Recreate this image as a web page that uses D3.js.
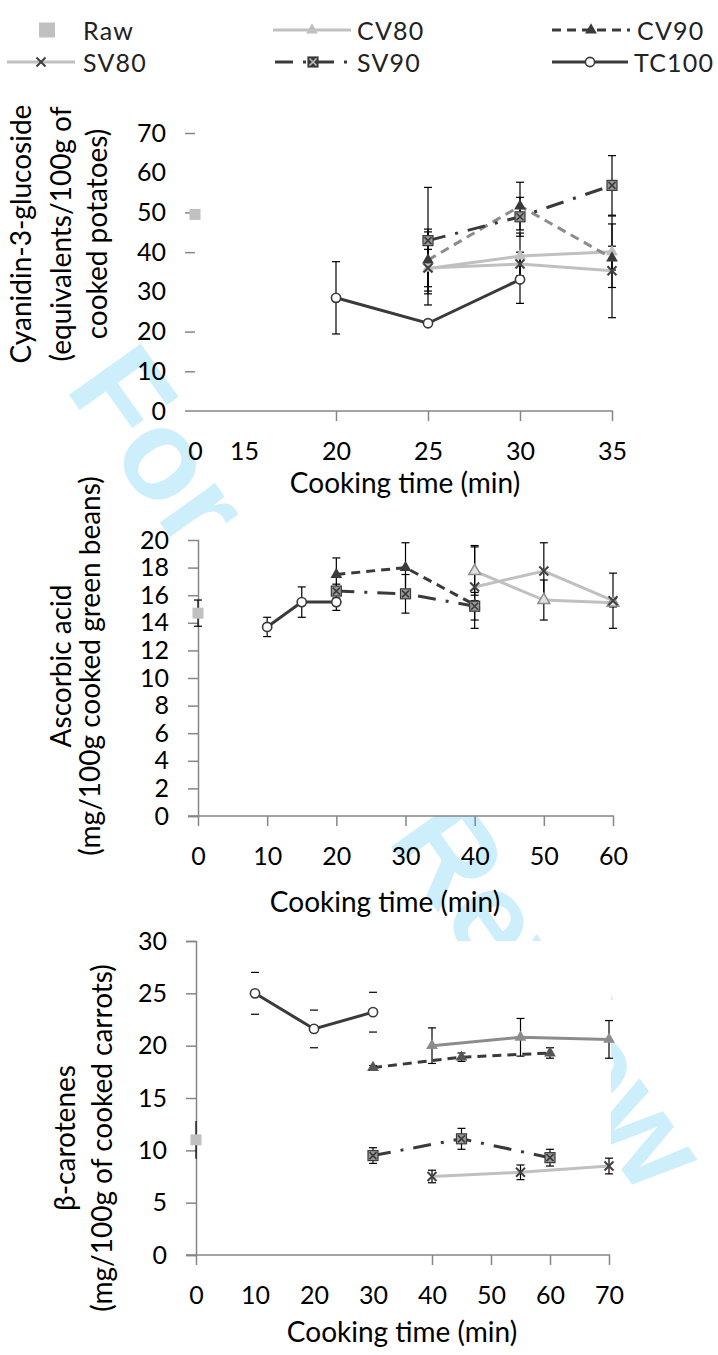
<!DOCTYPE html>
<html>
<head>
<meta charset="utf-8">
<script src="https://cdn.jsdelivr.net/npm/d3@7"></script>
<style>
  body { margin: 0; background: #fff; }
  svg { display: block; font-family: Lato, "Open Sans", sans-serif; }
</style>
</head>
<body>
<svg id="chart" width="718" height="1355"></svg>
<script>
// ---- data: [cooking time (min), mean, sd] ----
// potatoes (cyanidin-3-glucoside)
const potRaw   = [[0, 49.5, 0]];
const potCV80  = [[25, 35.9, 9.2], [30, 39.0, 5.8], [35, 40.1, 9.0]];
const potCV90  = [[25, 38.0, 7.8], [30, 51.6, 6.0], [35, 38.5, 3.0]];
const potSV80  = [[25, 36.0, 4.7], [30, 37.0, 3.0], [35, 35.3, 11.8]];
const potSV90  = [[25, 42.9, 13.4], [30, 48.9, 4.9], [35, 56.8, 7.5]];
const potTC100 = [[20, 28.5, 9.1], [25, 22.1, 0.8], [30, 33.1, 6.0]];

// green beans (ascorbic acid)
const beanRaw   = [[0, 14.7, 0.95]];
const beanCV80  = [[40, 17.75, 1.75], [50, 15.65, 1.45], [60, 15.45, 0.3]];
const beanCV90  = [[20, 17.5, 1.2], [30, 18.0, 1.8], [40, 15.3, 0.3]];
const beanSV80  = [[40, 16.6, 3.0], [50, 17.75, 2.05], [60, 15.6, 2.0]];
const beanSV90  = [[20, 16.3, 0.5], [30, 16.1, 1.4], [40, 15.2, 1.0]];
const beanTC100 = [[10, 13.7, 0.7], [15, 15.5, 1.1], [20, 15.5, 0.6]];

// carrots (beta-carotenes)
const carRaw   = [[0, 11.0, 1.8]];
const carCV80  = [[40, 20.0, 1.7], [55, 20.8, 1.8], [70, 20.6, 1.8]];
const carCV90  = [[30, 17.9, 0.2], [45, 18.9, 0.4], [60, 19.3, 0.5]];
const carSV80  = [[40, 7.5, 0.6], [55, 7.9, 0.7], [70, 8.5, 0.75]];
const carSV90  = [[30, 9.5, 0.75], [45, 11.1, 1.0], [60, 9.3, 0.8]];
const carTC100 = [[10, 25.0, 2.0], [20, 21.6, 1.8], [30, 23.2, 1.9]];

// ticks
const potXLabels = [0, 15, 20, 25, 30, 35];
const potXMarks  = [20, 25, 30, 35];
const potYLabels = [0, 10, 20, 30, 40, 50, 60, 70];
const potYMarks  = [10, 20, 40, 50, 70];
const beanXLabels = [0, 10, 20, 30, 40, 50, 60];
const beanYLabels = [0, 2, 4, 6, 8, 10, 12, 14, 16, 18, 20];
const carXLabels = [0, 10, 20, 30, 40, 50, 60, 70];
const carXMarks  = [0, 40, 50, 60, 70];
const carYLabels = [0, 5, 10, 15, 20, 25, 30];

const seriesNames = ["Raw", "CV80", "CV90", "SV80", "SV90", "TC100"];
const xTitle = "Cooking time (min)";
const potYTitle  = ["Cyanidin-3-glucoside", "(equivalents/100g of", "cooked potatoes)"];
const beanYTitle = ["Ascorbic acid", "(mg/100g cooked green beans)"];
const carYTitle  = ["β-carotenes", "(mg/100g of cooked carrots)"];

const DARK = "#3a3a3a", LIGHT = "#c0c0c0", MID = "#8c8c8c", AXIS = "#868686";

const styles = {
    Raw:   { line: null, marker: "square", fill: LIGHT },
    CV80:  { line: LIGHT, marker: "tri", fill: LIGHT, stroke: "none" },
    CV90:  { line: DARK, dash: "9,6", marker: "tri", fill: DARK, stroke: "none" },
    SV80:  { line: LIGHT, marker: "cross", stroke: "#404040" },
    SV90:  { line: DARK, dash: "18,10,3,10", marker: "boxcross", fill: "#9a9a9a", stroke: DARK },
    TC100: { line: DARK, marker: "circle", fill: "#fff", stroke: DARK }
};

const svg = d3.select("#chart");

// watermark sits under the plot areas
svg.append("text")
    .text("For Peer Review")
    .attr("transform", "translate(64,388) rotate(54.5)")
    .attr("font-family", "'Liberation Sans', Arial, sans-serif")
    .attr("font-weight", "bold")
    .attr("font-size", 128)
    .attr("fill", "#cdeefb");

const panels = [
    {
        data: { Raw: potRaw, CV80: potCV80, CV90: potCV90, SV80: potSV80, SV90: potSV90, TC100: potTC100 },
        x: d3.scaleLinear().domain([0, 15, 35]).range([195, 244, 612]),
        y: d3.scaleLinear().domain([0, 70]).range([411, 133]),
        xLabels: potXLabels, xMarks: potXMarks, yLabels: potYLabels, yMarks: potYMarks,
        yLine: false, yTitle: potYTitle, yTitleX: [31, 71, 107], yTitleY: 234,
        xTitleX: 405, xTitleY: 493,
        over: { CV90: { line: MID } }
    },
    {
        data: { Raw: beanRaw, CV80: beanCV80, CV90: beanCV90, SV80: beanSV80, SV90: beanSV90, TC100: beanTC100 },
        x: d3.scaleLinear().domain([0, 60]).range([198, 613]),
        y: d3.scaleLinear().domain([0, 20]).range([816, 540]),
        xLabels: beanXLabels, xMarks: beanXLabels, yLabels: beanYLabels, yMarks: beanYLabels.slice(0, -1),
        yLine: true, yTitle: beanYTitle, yTitleX: [71, 100], yTitleY: 666,
        xTitleX: 385, xTitleY: 912,
        over: { CV80: { fill: "#e0e0e0", stroke: MID } }
    },
    {
        data: { Raw: carRaw, CV80: carCV80, CV90: carCV90, SV80: carSV80, SV90: carSV90, TC100: carTC100 },
        x: d3.scaleLinear().domain([0, 70]).range([196, 609]),
        y: d3.scaleLinear().domain([0, 30]).range([1255, 941]),
        xLabels: carXLabels, xMarks: carXMarks, yLabels: carYLabels, yMarks: carYLabels,
        yLine: true, yTitle: carYTitle, yTitleX: [75, 112], yTitleY: 1138,
        xTitleX: 402, xTitleY: 1342,
        over: { CV80: { line: MID, fill: MID }, CV90: { fill: "#555" } },
        capsOnly: ["TC100"], noCaps: ["Raw"]
    }
];

function drawMarker(g, type, st) {
    if (type === "square") {
        g.append("rect").attr("x", -5.5).attr("y", -5.5).attr("width", 11).attr("height", 11)
            .attr("fill", st.fill);
    } else if (type === "tri") {
        g.append("path").attr("d", d3.symbol(d3.symbolTriangle, 60)())
            .attr("fill", st.fill).attr("stroke", st.stroke || "none").attr("stroke-width", 1.5);
    } else if (type === "cross") {
        g.append("path").attr("d", "M-4.5,-4.5L4.5,4.5M-4.5,4.5L4.5,-4.5")
            .attr("stroke", st.stroke).attr("stroke-width", 2);
    } else if (type === "boxcross") {
        g.append("rect").attr("x", -5).attr("y", -5).attr("width", 10).attr("height", 10)
            .attr("fill", st.fill).attr("stroke", st.stroke).attr("stroke-width", 1.2);
        g.append("path").attr("d", "M-3.5,-3.5L3.5,3.5M-3.5,3.5L3.5,-3.5")
            .attr("stroke", st.stroke).attr("stroke-width", 1.6);
    } else if (type === "circle") {
        g.append("circle").attr("r", 4.6)
            .attr("fill", st.fill).attr("stroke", st.stroke).attr("stroke-width", 1.6);
    }
}

panels.forEach(p => {
    const g = svg.append("g");
    const [x0, x1] = p.x.range().length > 2 ? [p.x.range()[0], p.x.range()[2]] : p.x.range();
    const [y0, y1] = p.y.range();

    // white plot area hides the watermark
    g.append("rect").attr("x", x0 - 10).attr("y", y1).attr("width", x1 - x0 + 12).attr("height", y0 - y1)
        .attr("fill", "#fff");

    // y axis: marks + labels
    const ym = g.append("g").attr("transform", `translate(${x0},0)`)
        .call(d3.axisLeft(p.y).tickValues(p.yMarks).tickSize(10).tickFormat(""));
    ym.select(".domain").attr("stroke", p.yLine ? AXIS : "none").attr("stroke-width", 1.5);
    ym.selectAll(".tick line").attr("stroke", AXIS).attr("stroke-width", 1.5);

    g.append("g").attr("transform", `translate(${x0},0)`)
        .call(d3.axisLeft(p.y).tickValues(p.yLabels).tickSize(0).tickPadding(29).tickFormat(d3.format("d")))
        .call(a => a.select(".domain").remove())
        .selectAll("text").attr("font-family", "Lato, sans-serif").attr("font-size", 25).attr("fill", "#000");

    // x axis
    g.append("line").attr("x1", x0 - 10).attr("x2", x1 + 1).attr("y1", y0).attr("y2", y0)
        .attr("stroke", AXIS).attr("stroke-width", 1.5);
    const xm = g.append("g").attr("transform", `translate(0,${y0})`)
        .call(d3.axisBottom(p.x).tickValues(p.xMarks).tickSize(10).tickFormat(""));
    xm.select(".domain").remove();
    xm.selectAll(".tick line").attr("stroke", AXIS).attr("stroke-width", 1.5);

    g.append("g").attr("transform", `translate(0,${y0})`)
        .call(d3.axisBottom(p.x).tickValues(p.xLabels).tickSize(0).tickPadding(31).tickFormat(d3.format("d")))
        .call(a => a.select(".domain").remove())
        .selectAll("text").attr("font-family", "Lato, sans-serif").attr("font-size", 25).attr("fill", "#000");

    // titles
    g.append("text").text(xTitle)
        .attr("x", p.xTitleX).attr("y", p.xTitleY).attr("text-anchor", "middle")
        .attr("font-size", 28).attr("fill", "#000");
    p.yTitle.forEach((t, i) => {
        g.append("text").text(t)
            .attr("transform", `translate(${p.yTitleX[i]},${p.yTitleY}) rotate(-90)`)
            .attr("text-anchor", "middle").attr("font-size", 28).attr("fill", "#000");
    });

    const styleOf = name => Object.assign({}, styles[name], (p.over || {})[name] || {});

    // error bars
    seriesNames.forEach(name => {
        const rows = p.data[name];
        const capsOnly = (p.capsOnly || []).includes(name);
        const noCaps = (p.noCaps || []).includes(name);
        rows.filter(d => d[2] > 0).forEach(d => {
            const cx = p.x(d[0]), top = p.y(d[1] + d[2]), bot = p.y(d[1] - d[2]);
            if (!capsOnly) {
                g.append("line").attr("x1", cx).attr("x2", cx).attr("y1", top).attr("y2", bot)
                    .attr("stroke", "#000").attr("stroke-width", 1.2);
            }
            if (!noCaps) {
                [top, bot].forEach(yy => {
                    g.append("line").attr("x1", cx - 4).attr("x2", cx + 4).attr("y1", yy).attr("y2", yy)
                        .attr("stroke", "#000").attr("stroke-width", 1.2);
                });
            }
        });
    });

    // lines
    const line = d3.line().x(d => p.x(d[0])).y(d => p.y(d[1]));
    seriesNames.forEach(name => {
        const st = styleOf(name);
        if (!st.line) return;
        g.append("path").datum(p.data[name]).attr("d", line)
            .attr("fill", "none").attr("stroke", st.line).attr("stroke-width", 3)
            .attr("stroke-dasharray", st.dash || null);
    });

    // markers
    seriesNames.forEach(name => {
        const st = styleOf(name);
        p.data[name].forEach(d => {
            const m = g.append("g").attr("transform", `translate(${p.x(d[0])},${p.y(d[1])})`);
            drawMarker(m, st.marker, st);
        });
    });
});

// legend
const legendPos = {
    Raw:   { x: 30, y: 30, len: 18, tx: 83 },
    CV80:  { x: 273, y: 30, len: 78, tx: 357 },
    CV90:  { x: 552, y: 30, len: 78, tx: 637 },
    SV80:  { x: 7, y: 62, len: 68, tx: 83 },
    SV90:  { x: 275, y: 62, len: 76, tx: 357 },
    TC100: { x: 552, y: 62, len: 76, tx: 634 }
};
const lg = svg.append("g");
seriesNames.forEach(name => {
    const st = styles[name], lp = legendPos[name];
    if (st.line) {
        lg.append("line").attr("x1", lp.x).attr("x2", lp.x + lp.len).attr("y1", lp.y).attr("y2", lp.y)
            .attr("stroke", st.line).attr("stroke-width", 3).attr("stroke-dasharray", st.dash || null);
    }
    const m = lg.append("g").attr("transform", `translate(${lp.x + lp.len / 2},${lp.y})`);
    if (name === "Raw") {
        m.append("rect").attr("x", 0).attr("y", -7.5).attr("width", 16).attr("height", 15).attr("fill", LIGHT);
    } else if (name === "SV90") {
        drawMarker(m, "boxcross", { fill: DARK, stroke: DARK });
        m.select("path").attr("stroke", "#bbb");
    } else {
        drawMarker(m, st.marker, st);
    }
    lg.append("text").text(name).attr("x", lp.tx).attr("y", lp.y + 10)
        .attr("font-size", 25).attr("letter-spacing", 1.2).attr("fill", "#222");
});
</script>
</body>
</html>
